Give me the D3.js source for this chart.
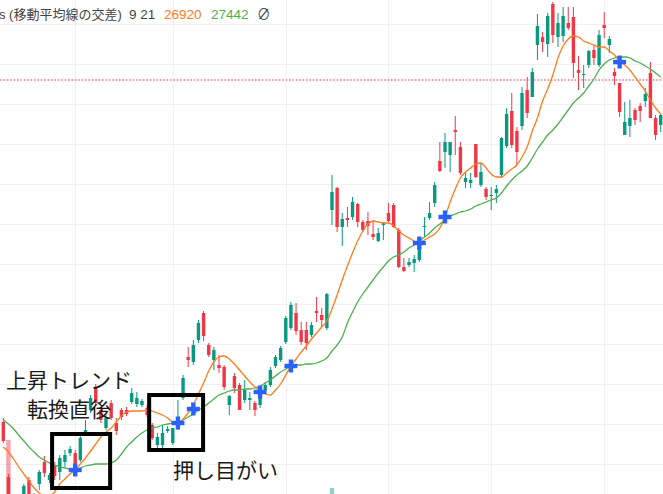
<!DOCTYPE html>
<html>
<head>
<meta charset="utf-8">
<script src="https://cdn.jsdelivr.net/npm/d3@7"></script>
<style>
  html, body { margin: 0; padding: 0; background: #fff; overflow: hidden; }
  svg { display: block; }
  text { font-family: "Noto Sans CJK JP", "Noto Sans", sans-serif; }
  .legend text { font-family: "Liberation Sans", "Noto Sans CJK JP", sans-serif; }
</style>
</head>
<body>
<div id="chart"></div>
<script>
// candles (one per trading day, left to right)
const open = [25620, 25070, 24840, 24720, 24860, 25040, 24820, 25000, 25220, 25040,
  25190, 25120, 25220, 25310, 25310, 25240, 25520, 25740, 25960, 25740,
  25560, 25810, 25610, 25740, 25740, 25820, 25800, 25790, 25760, 25590,
  25390, 25390, 25530, 25410, 25560, 25860, 26270, 26220, 26440, 26710,
  26390, 26240, 26190, 26170, 25790, 26080, 25990, 25840, 25840, 25810,
  25790, 25940, 25990, 26180, 26240, 26420, 26560, 26710, 26540, 26540,
  26490, 26730, 26690, 26560, 27740, 27960, 27570, 27660, 27670, 27800,
  27620, 27630, 27500, 27430, 27590, 27710, 27790, 27540, 27170, 27190,
  27210, 27240, 27570, 27660, 27810, 28230, 28320, 28290, 28540, 28370,
  28020, 28010, 28400, 27990, 27950, 27880, 27910, 28090, 28380, 28730,
  28530, 28580, 28940, 28870, 29390, 29470, 29400, 29800, 29470, 29480,
  29610, 29670, 29140, 29090, 29190, 29340, 29190, 29590, 29390, 29120,
  29010, 28490, 28580, 28740, 28780, 28830, 29110, 28660, 28590];
const high = [25660, 25100, 24860, 24840, 25000, 25070, 24910, 25140, 25280, 25110,
  25220, 25290, 25340, 25380, 25340, 25490, 25640, 25890, 26000, 25770,
  25690, 25840, 25660, 25760, 25770, 25960, 25920, 25850, 25790, 25610,
  25510, 25590, 25580, 25560, 25840, 26090, 26370, 26440, 26640, 26730,
  26410, 26370, 26290, 26190, 25890, 26110, 26010, 26040, 25920, 25830,
  25980, 26020, 26170, 26290, 26380, 26680, 26820, 26810, 26620, 26620,
  26620, 26870, 26760, 26910, 28090, 27970, 27710, 27770, 27870, 27810,
  27640, 27720, 27640, 27560, 27620, 27810, 27810, 27560, 27260, 27260,
  27290, 27470, 27670, 27820, 28020, 28420, 28510, 28420, 28680, 28420,
  28110, 28110, 28400, 28210, 27970, 27970, 27990, 28470, 28760, 28910,
  28570, 28970, 29070, 29160, 29700, 29520, 29710, 29820, 29710, 29770,
  29770, 29770, 29280, 29190, 29340, 29390, 29540, 29720, 29480, 29160,
  29010, 28820, 28840, 28760, 28810, 28960, 29220, 28690, 28710];
const low = [25410, 24790, 24690, 24680, 24820, 24820, 24780, 24940, 25070, 25010,
  25040, 25040, 25170, 25280, 25160, 25220, 25510, 25710, 25790, 25610,
  25540, 25640, 25490, 25640, 25680, 25800, 25770, 25770, 25670, 25440,
  25360, 25360, 25510, 25390, 25540, 25840, 26170, 26190, 26410, 26430,
  26270, 26140, 26110, 25940, 25690, 25910, 25740, 25810, 25740, 25680,
  25760, 25920, 25970, 26160, 26220, 26400, 26540, 26490, 26390, 26340,
  26470, 26620, 26570, 26540, 27590, 27520, 27380, 27570, 27640, 27570,
  27520, 27490, 27440, 27420, 27440, 27620, 27560, 27160, 27120, 27170,
  27120, 27220, 27470, 27640, 27770, 28120, 28160, 28120, 28290, 28090,
  27960, 27960, 28060, 27970, 27840, 27740, 27810, 28060, 28360, 28360,
  28190, 28540, 28660, 28870, 29240, 29320, 29270, 29410, 29370, 29420,
  29540, 29060, 28940, 28960, 29160, 29190, 29170, 29460, 29310, 28990,
  28670, 28490, 28470, 28590, 28620, 28770, 28660, 28440, 28520];
const close = [25430, 24840, 24740, 24810, 24980, 24860, 24890, 25120, 25110, 25090,
  25080, 25260, 25290, 25350, 25190, 25460, 25540, 25860, 25810, 25640,
  25660, 25660, 25530, 25670, 25700, 25910, 25860, 25830, 25690, 25460,
  25470, 25510, 25550, 25560, 25670, 26060, 26240, 26390, 26610, 26480,
  26290, 26340, 26160, 25970, 25880, 25960, 25740, 25940, 25860, 25740,
  25960, 25990, 26140, 26270, 26360, 26660, 26790, 26530, 26420, 26410,
  26590, 26710, 26640, 26900, 27920, 27570, 27650, 27640, 27820, 27620,
  27540, 27580, 27470, 27510, 27610, 27630, 27570, 27170, 27130, 27220,
  27250, 27460, 27580, 27710, 27990, 28130, 28420, 28420, 28520, 28110,
  28060, 28040, 28070, 28120, 27870, 27890, 27950, 28460, 28700, 28390,
  28320, 28910, 28710, 29120, 29580, 29420, 29680, 29490, 29610, 29680,
  29560, 29210, 29110, 29100, 29330, 29260, 29490, 29560, 29450, 29080,
  28720, 28620, 28660, 28640, 28730, 28900, 28660, 28490, 28690];

// moving averages
const ma9 = [25370, 25320, 25250, 25170, 25100, 25030, 24960, 24910, 24870, 24880,
  24920, 25000, 25050, 25100, 25140, 25200, 25260, 25330, 25400, 25470,
  25520, 25560, 25620, 25680, 25720, 25730, 25730, 25730, 25740, 25730,
  25710, 25690, 25660, 25620, 25610, 25650, 25710, 25790, 25900, 26010,
  26130, 26220, 26270, 26280, 26250, 26200, 26140, 26080, 26020, 25970,
  25930, 25900, 25890, 25940, 26000, 26090, 26180, 26250, 26320, 26380,
  26450, 26510, 26570, 26630, 26750, 26890, 27040, 27180, 27310, 27430,
  27530, 27600, 27630, 27620, 27610, 27610, 27580, 27530, 27490, 27460,
  27430, 27410, 27440, 27470, 27500, 27560, 27670, 27820, 27950, 28060,
  28120, 28160, 28200, 28210, 28160, 28100, 28070, 28070, 28110, 28150,
  28190, 28270, 28370, 28530, 28660, 28830, 28950, 29090, 29260, 29380,
  29450, 29480, 29470, 29430, 29410, 29390, 29370, 29370, 29330, 29290,
  29230, 29190, 29140, 29070, 29000, 28930, 28840, 28760, 28700];
const ma21 = [25640, 25600, 25550, 25490, 25430, 25370, 25320, 25270, 25240, 25210,
  25190, 25170, 25160, 25150, 25150, 25160, 25180, 25190, 25200, 25200,
  25200, 25210, 25240, 25300, 25370, 25420, 25470, 25510, 25540, 25560,
  25570, 25590, 25600, 25610, 25620, 25640, 25670, 25700, 25740, 25770,
  25810, 25850, 25890, 25910, 25930, 25940, 25940, 25950, 25950, 25960,
  25980, 26010, 26040, 26080, 26120, 26150, 26180, 26190, 26190, 26200,
  26200, 26210, 26230, 26260, 26330, 26390, 26470, 26610, 26720, 26820,
  26900, 26970, 27040, 27110, 27170, 27230, 27270, 27290, 27320, 27360,
  27390, 27430, 27470, 27510, 27560, 27600, 27640, 27680, 27700, 27720,
  27730, 27750, 27780, 27800, 27820, 27840, 27860, 27910, 27980, 28040,
  28090, 28130, 28180, 28260, 28350, 28420, 28490, 28540, 28600, 28670,
  28740, 28810, 28860, 28910, 28980, 29050, 29140, 29200, 29240, 29260,
  29270, 29270, 29260, 29230, 29210, 29180, 29150, 29110, 29070];

// cross markers
const crossIdx = [14, 34, 37, 50, 56, 81, 86, 120];
const crossPrice = [25140, 25610, 25750, 25920, 26180, 27410, 27670, 29220];

// volume bars that reach into view
const volIdx = [1, 64];
const volVal = [80, 32];

// grid / legend
const gridPrices = [29600, 29200, 28800, 28400, 28000, 27600, 27200, 26800, 26400, 26000, 25600, 25200];
const monthIdx = [14, 33, 55, 75, 95, 117];
const lastPrice = 29040;
const maLen = [9, 21];
const maLast = [26920, 27442];

const w = 663;
const h = 494;
const upCol = "#089981";
const downCol = "#f23645";
const orange = "#ff7b1c";
const green = "#4caf50";

const svg = d3.select("#chart")
              .append("svg")
              .attr("width", w)
              .attr("height", h)

const xScale = d3.scaleLinear()
                 .domain([0, open.length - 1])
                 .range([3.3, 660.7])
const yScale = d3.scaleLinear()
                 .domain([24900, 29840])
                 .range([h, 0])
const volScale = d3.scaleLinear()
                   .domain([0, 100])
                   .range([520, 420])

// grid
svg.append("g")
   .selectAll("line")
   .data(gridPrices)
   .enter()
   .append("line")
   .attr("x1", 0)
   .attr("x2", w)
   .attr("y1", (d) => Math.round(yScale(d)) + 0.5)
   .attr("y2", (d) => Math.round(yScale(d)) + 0.5)
   .attr("stroke", "#eef0f3")
svg.append("g")
   .selectAll("line")
   .data(monthIdx)
   .enter()
   .append("line")
   .attr("x1", (d) => Math.round(xScale(d)) + 0.5)
   .attr("x2", (d) => Math.round(xScale(d)) + 0.5)
   .attr("y1", 0)
   .attr("y2", h)
   .attr("stroke", "#eef0f3")

// volume
svg.append("g")
   .selectAll("rect")
   .data(volIdx)
   .enter()
   .append("rect")
   .attr("x", (d) => xScale(d) - 2.2)
   .attr("width", 4.4)
   .attr("y", (d, i) => volScale(volVal[i]))
   .attr("height", (d, i) => volScale(0) - volScale(volVal[i]))
   .attr("fill", (d) => close[d] >= open[d] ? upCol : downCol)
   .attr("opacity", 0.45)

// last price line
svg.append("line")
   .attr("x1", 0)
   .attr("x2", w)
   .attr("y1", yScale(lastPrice))
   .attr("y2", yScale(lastPrice))
   .attr("stroke", downCol)
   .attr("stroke-width", 1.2)
   .attr("stroke-dasharray", "1.6,1.8")

// candles
const idx = d3.range(open.length);
const candles = svg.append("g")
                   .selectAll("g")
                   .data(idx)
                   .enter()
                   .append("g")
                   .attr("fill", (i) => close[i] >= open[i] ? upCol : downCol)
                   .attr("stroke", (i) => close[i] >= open[i] ? upCol : downCol)
candles.append("line")
       .attr("x1", (i) => xScale(i))
       .attr("x2", (i) => xScale(i))
       .attr("y1", (i) => yScale(high[i]))
       .attr("y2", (i) => yScale(low[i]))
       .attr("stroke-width", 1)
candles.append("rect")
       .attr("x", (i) => xScale(i) - 1.7)
       .attr("width", 3.4)
       .attr("y", (i) => yScale(Math.max(open[i], close[i])))
       .attr("height", (i) => Math.max(1, Math.abs(yScale(open[i]) - yScale(close[i]))))
       .attr("stroke", "none")

// moving averages
const maLine = (arr) => d3.line()
                          .x((d, i) => xScale(i))
                          .y((d) => yScale(d))
                          .curve(d3.curveMonotoneX)(arr);
svg.append("path")
   .attr("d", maLine(ma21))
   .attr("fill", "none")
   .attr("stroke", green)
   .attr("stroke-width", 1.3)
svg.append("path")
   .attr("d", maLine(ma9))
   .attr("fill", "none")
   .attr("stroke", orange)
   .attr("stroke-width", 1.3)

// boxes drawn on the chart (bar index / price corners)
const boxes = [
  {i0: 9.5, i1: 20.8, p0: 24960, p1: 25500},
  {i0: 28.4, i1: 38.9, p0: 25340, p1: 25890}
];
svg.append("g")
   .selectAll("rect")
   .data(boxes)
   .enter()
   .append("rect")
   .attr("x", (d) => xScale(d.i0))
   .attr("y", (d) => yScale(d.p1))
   .attr("width", (d) => xScale(d.i1) - xScale(d.i0))
   .attr("height", (d) => yScale(d.p0) - yScale(d.p1))
   .attr("fill", "none")
   .attr("stroke", "#000")
   .attr("stroke-width", 4)

// blue crosses
const cross = svg.append("g")
                 .selectAll("g")
                 .data(crossIdx)
                 .enter()
                 .append("g")
                 .attr("transform", (d, i) => "translate(" + xScale(d) + "," + yScale(crossPrice[i]) + ")")
                 .attr("fill", "#2962ff")
cross.append("rect").attr("x", -6.5).attr("y", -2.2).attr("width", 13).attr("height", 4.4)
cross.append("rect").attr("x", -2.2).attr("y", -6.5).attr("width", 4.4).attr("height", 13)

// annotations
const notes = [
  {t: "上昇トレンド", x: 6, y: 388},
  {t: "転換直後", x: 27, y: 417},
  {t: "押し目がい", x: 173, y: 478}
];
svg.append("g")
   .selectAll("text")
   .data(notes)
   .enter()
   .append("text")
   .attr("x", (d) => d.x)
   .attr("y", (d) => d.y)
   .attr("font-size", 21)
   .attr("fill", "#1b1b1b")
   .text((d) => d.t)

// legend
const legend = svg.append("g").attr("class", "legend").attr("font-size", 13.5)
legend.append("text").attr("x", -1).attr("y", 19).attr("font-size", 13).attr("fill", "#444").text("s (移動平均線の交差)")
legend.append("text").attr("x", 129).attr("y", 19).attr("fill", "#444").text(maLen.join(" "))
legend.append("text").attr("x", 164).attr("y", 19).attr("fill", orange).text(maLast[0])
legend.append("text").attr("x", 211).attr("y", 19).attr("fill", green).text(maLast[1])
legend.append("text").attr("x", 257).attr("y", 19).attr("fill", "#444").text("∅")
</script>
</body>
</html>
